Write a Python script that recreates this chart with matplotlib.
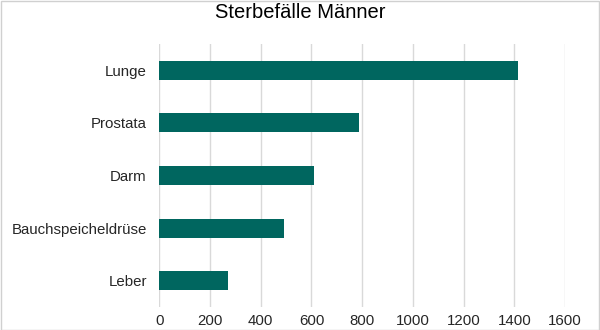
import matplotlib.pyplot as plt
from matplotlib.patches import Rectangle

# Data
categories = ["Lunge", "Prostata", "Darm", "Bauchspeicheldrüse", "Leber"]
deaths = [1414, 789, 609, 492, 272]
x_ticks = [0, 200, 400, 600, 800, 1000, 1200, 1400, 1600]

BAR_COLOR = "#00665F"
GRID_COLOR = "#D9D9D9"
TEXT_COLOR = "#262626"

plt.rcParams['font.family'] = ['Liberation Sans', 'DejaVu Sans']

fig = plt.figure(figsize=(6, 3.3), dpi=100)
ax = fig.add_axes([0.2655, 0.0697, 0.9417 - 0.2655, 0.8667 - 0.0697])

# Reverse so the first category is at the top
y_pos = list(range(len(categories)))[::-1]
ax.barh(y_pos, deaths, height=0.36, color=BAR_COLOR, zorder=3)

ax.set_ylim(-0.5, len(categories) - 0.5)
ax.set_xlim(0, 1600)
ax.set_xticks(x_ticks)
ax.set_xticklabels([str(t) for t in x_ticks])
ax.set_yticks(y_pos)
ax.set_yticklabels(categories)

# Light vertical gridlines, no spines, no tick marks
ax.grid(axis="x", color=GRID_COLOR, linewidth=1, zorder=0)
for spine in ax.spines.values():
    spine.set_visible(False)
ax.tick_params(axis="both", length=0, labelsize=10.8, colors=TEXT_COLOR)
ax.tick_params(axis="x", pad=5)
ax.tick_params(axis="y", pad=9)

fig.text(0.5, 0.962, "Sterbefälle Männer", ha="center", va="center",
         fontsize=14.5, color="#000000")

# Thin frame around the whole chart
fig.patches.append(Rectangle((0.001, 0.001), 0.997, 0.997, transform=fig.transFigure,
                             fill=False, edgecolor="#D0D0D0", linewidth=1))

fig.savefig("out.png", dpi=100)
